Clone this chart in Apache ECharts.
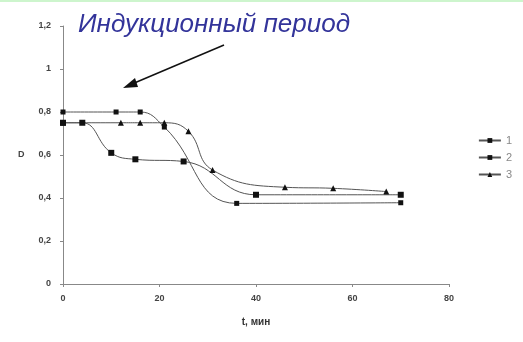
<!DOCTYPE html>
<html><head><meta charset="utf-8">
<script src="https://cdn.jsdelivr.net/npm/echarts@6/dist/echarts.min.js"></script>
<style>html,body{margin:0;padding:0;background:#fff}#c{width:523px;height:342px}</style>
</head><body><div id="c"></div>
<script>
var xTicks = [0, 20, 40, 60, 80];
var yTicks = [0, 0.2, 0.4, 0.6, 0.8, 1, 1.2];
var seriesNames = ['1', '2', '3'];
var s1 = [[0, 0.80], [11, 0.80], [16, 0.80], [21, 0.73], [36, 0.375], [70, 0.378]];
var s2 = [[0, 0.75], [4, 0.75], [10, 0.61], [15, 0.58], [25, 0.57], [40, 0.415], [70, 0.415]];
var s3 = [[0, 0.75], [12, 0.75], [16, 0.75], [21, 0.75], [26, 0.71], [31, 0.53], [46, 0.45], [56, 0.445], [67, 0.43]];
var annotation = 'Индукционный период';
var xName = 't, мин';
var yName = 'D';

var chart = echarts.init(document.getElementById('c'), null, {renderer: 'canvas'});
function fmt(v) { return String(v).replace('.', ','); }
var lab = {color: '#444', fontSize: 9, fontWeight: 'bold', fontFamily: 'Liberation Sans, Arial'};
function mk(name, data, sym, size) {
  return {
    name: name, type: 'line', data: data, smooth: 0.45,
    symbol: sym, symbolSize: size, showSymbol: true,
    lineStyle: {color: '#555', width: 1},
    itemStyle: {color: '#111'},
    emphasis: {disabled: true}
  };
}
chart.setOption({
  animation: false,
  backgroundColor: '#fff',
  grid: {left: 63, right: 74, top: 26, bottom: 58, containLabel: false},
  legend: {
    orient: 'vertical', right: 6, top: 130, itemGap: 6,
    itemWidth: 22, itemHeight: 6,
    textStyle: {color: '#888', fontSize: 11, fontFamily: 'Liberation Sans, Arial'},
    data: seriesNames
  },
  xAxis: {
    type: 'value', min: 0, max: 80, interval: 20,
    name: xName, nameLocation: 'middle', nameGap: 33,
    nameTextStyle: {color: '#333', fontSize: 10, fontWeight: 'bold', fontFamily: 'Liberation Sans, Arial'},
    axisLine: {lineStyle: {color: '#888'}},
    axisTick: {show: true, length: 3, inside: false, lineStyle: {color: '#888'}},
    axisLabel: Object.assign({margin: 10, formatter: fmt}, lab),
    splitLine: {show: false}
  },
  yAxis: {
    type: 'value', min: 0, max: 1.2, interval: 0.2,
    axisLine: {show: true, lineStyle: {color: '#888'}},
    axisTick: {show: true, length: 3, lineStyle: {color: '#888'}},
    axisLabel: Object.assign({margin: 12, formatter: fmt}, lab),
    splitLine: {show: false}
  },
  graphic: [
    {type: 'rect', shape: {x: 0, y: 0, width: 523, height: 2}, style: {fill: '#cdf5cd'}},
    {type: 'text', left: 18, top: 150, style: {text: yName, fill: '#444', font: 'bold 9px Liberation Sans, Arial'}},
    {type: 'text', left: 78, top: 12, style: {text: annotation, fill: '#33349a', font: 'italic 26px Liberation Sans, Arial'}},
    {type: 'line', shape: {x1: 224, y1: 45, x2: 132, y2: 84}, style: {stroke: '#111', lineWidth: 1.5}},
    {type: 'polygon', shape: {points: [[123, 88], [135, 78], [138, 87]]}, style: {fill: '#111'}}
  ],
  series: [
    mk(seriesNames[0], s1, 'rect', 5),
    mk(seriesNames[1], s2, 'rect', 6),
    mk(seriesNames[2], s3, 'triangle', 6)
  ]
});
</script></body></html>
